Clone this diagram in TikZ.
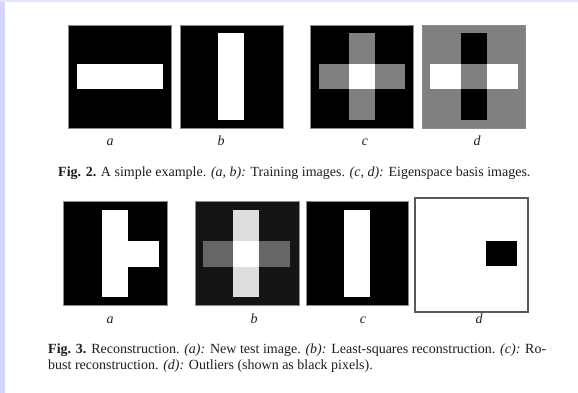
\documentclass[tikz,border=0pt]{standalone}
\usepackage{fontspec}
\setmainfont{Liberation Serif}
\definecolor{lavL}{RGB}{212,212,255}
\definecolor{lavT}{RGB}{228,228,255}
\definecolor{midgray}{RGB}{128,128,128}
\definecolor{darkbg}{RGB}{20,20,20}
\definecolor{lightbar}{RGB}{222,222,222}
\definecolor{hbar}{RGB}{102,102,102}
\definecolor{txt}{RGB}{30,30,30}
\begin{document}
\begin{tikzpicture}[x=1pt,y=-1pt,
  captxt/.style={anchor=base west, inner sep=0pt, text=txt, font=\fontsize{14}{16}\selectfont},
  labtxt/.style={anchor=base, inner sep=0pt, text=txt, font=\fontsize{14}{16}\selectfont\itshape},
  frame/.style={draw=black!45, line width=0.7pt}]
\useasboundingbox (0,0) rectangle (578,393);
\fill[white] (0,0) rectangle (578,393);
\fill[lavL] (0,0) rectangle (5,393);
\fill[lavT] (0,0) rectangle (578,2);

% ---------- Fig. 2 ----------
% a
\fill[black] (68,25) rectangle (171,128);
\fill[white] (77,64) rectangle (163,89);
\draw[frame] (68,25) rectangle (171,128);
% b
\fill[black] (180,25) rectangle (283,128);
\fill[white] (218,33) rectangle (244,120);
\draw[frame] (180,25) rectangle (283,128);
% c
\fill[black] (310,25) rectangle (413,128);
\fill[midgray] (349,33) rectangle (375,120);
\fill[midgray] (319,64) rectangle (405,89);
\fill[white] (349,64) rectangle (375,89);
\draw[frame] (310,25) rectangle (413,128);
% d
\fill[midgray] (422,25) rectangle (525,128);
\fill[black] (461,33) rectangle (487,120);
\fill[white] (430,64) rectangle (518,89);
\fill[midgray] (461,64) rectangle (487,89);
\draw[frame] (422,25) rectangle (525,128);

\node[labtxt] (la2) at (110,146) {a};
\node[labtxt] (lb2) at (221,146) {b};
\node[labtxt] (lc2) at (365,146) {c};
\node[labtxt] (ld2) at (477,146) {d};

\node[captxt] (cap2) at (58,176) {\textbf{Fig. 2.} A simple example. \textit{(a, b):} Training images. \textit{(c, d):} Eigenspace basis images.};

% ---------- Fig. 3 ----------
% a
\fill[black] (63,201) rectangle (167,305);
\fill[white] (102,210) rectangle (128,297);
\fill[white] (127,241) rectangle (159,267);
\draw[frame] (63,201) rectangle (167,305);
% b
\fill[darkbg] (195,201) rectangle (299,305);
\fill[lightbar] (233,210) rectangle (259,297);
\fill[hbar] (203,241) rectangle (290,267);
\fill[white] (233,241) rectangle (259,267);
\draw[frame] (195,201) rectangle (299,305);
% c
\fill[black] (306,201) rectangle (408,305);
\fill[white] (344,210) rectangle (370,297);
\draw[frame] (306,201) rectangle (408,305);
% d
\fill[white] (415,198) rectangle (528,312);
\draw[draw=black!65, line width=1.3pt] (415,198) rectangle (528,312);
\fill[black] (486,241) rectangle (517,266);

\node[labtxt] (la3) at (110,323) {a};
\node[labtxt] (lb3) at (254,323) {b};
\node[labtxt] (lc3) at (363,323) {c};
\node[labtxt] (ld3) at (479,323) {d};

\node[captxt] (cap3a) at (48,353) {\makebox[498pt][s]{\textbf{Fig. 3.} Reconstruction. \textit{(a):} New test image. \textit{(b):} Least-squares reconstruction. \textit{(c):} Ro-}};
\node[captxt] (cap3b) at (48,369) {bust reconstruction. \textit{(d):} Outliers (shown as black pixels).};
\end{tikzpicture}
\end{document}
